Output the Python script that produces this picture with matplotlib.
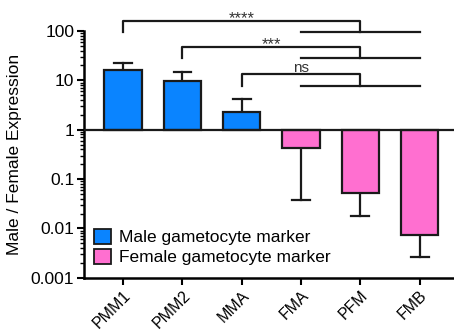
import matplotlib.pyplot as plt
from matplotlib.ticker import LogLocator, FixedLocator, FixedFormatter, NullFormatter

plt.rcParams['font.family'] = ['Liberation Sans', 'DejaVu Sans']

# data
genes = ["PMM1", "PMM2", "MMA", "FMA", "PFM", "FMB"]
ratio = [16, 9.5, 2.25, 0.43, 0.053, 0.0075]
err_end = [22.5, 15, 4.1, 0.037, 0.0176, 0.0026]
is_male = [True, True, True, False, False, False]
yticks = [0.001, 0.01, 0.1, 1, 10, 100]
ytick_labels = ["0.001", "0.01", "0.1", "1", "10", "100"]

# comparisons: (left group, label)
comparisons = [(0, "****"), (1, "***"), (2, "ns")]

blue = '#0A84FF'
pink = '#FF6FD0'
dark = '#1a1a1a'

fig = plt.figure(figsize=(4.54, 3.32), dpi=100)
ax = fig.add_axes([0.185, 0.163, 0.815, 0.744])
ax.set_yscale('log')
ax.set_ylim(0.001, 100)
ax.set_xlim(-0.66, 5.58)

x = list(range(len(genes)))
for i in x:
    c = blue if is_male[i] else pink
    ax.bar(i, ratio[i] - 1, bottom=1, width=0.63, color=c, edgecolor=dark,
           linewidth=1.6, zorder=3)
    ax.plot([i, i], [ratio[i], err_end[i]], color=dark, lw=1.6, zorder=2)
    ax.plot([i - 0.15, i + 0.15], [err_end[i], err_end[i]], color=dark, lw=1.6, zorder=2)

ax.axhline(1, color=dark, lw=1.6, zorder=4)

# significance brackets (each left bar vs. female markers)
levels = [(160, 95), (47, 28), (13.3, 7.5)]
for (left, lab), (ytop, ylow) in zip(comparisons, levels):
    kw = dict(color=dark, lw=1.6, clip_on=False)
    ax.plot([left, left, 4, 4], [ylow, ytop, ytop, ylow], **kw)
    ax.plot([3, 5], [ylow, ylow], **kw)
    if lab == 'ns':
        ax.text((left + 4) / 2, ytop * 1.12, lab, ha='center', va='baseline',
                fontsize=11, color='#333333')
    else:
        ax.text((left + 4) / 2, ytop * 1.12, lab, ha='center', va='center',
                fontsize=12, color='#333333')

for s in ['top', 'right']:
    ax.spines[s].set_visible(False)
ax.spines['left'].set_linewidth(1.8)
ax.spines['bottom'].set_linewidth(1.8)

ax.yaxis.set_major_locator(FixedLocator(yticks))
ax.yaxis.set_major_formatter(FixedFormatter(ytick_labels))
ax.yaxis.set_minor_locator(LogLocator(base=10, subs=range(2, 10)))
ax.yaxis.set_minor_formatter(NullFormatter())
ax.tick_params(axis='y', which='major', length=5, width=1.5, labelsize=12.5, pad=2)
ax.tick_params(axis='y', which='minor', length=3, width=1.0)
ax.set_xticks(x)
ax.set_xticklabels(genes, rotation=45, ha='right', rotation_mode='anchor', fontsize=11.5)
ax.tick_params(axis='x', length=5, width=1.5, pad=2)

ax.set_ylabel("Male / Female Expression", fontsize=12.5, labelpad=6)

h1 = plt.Rectangle((0, 0), 1, 1, facecolor=blue, edgecolor=dark, lw=1.3)
h2 = plt.Rectangle((0, 0), 1, 1, facecolor=pink, edgecolor=dark, lw=1.3)
ax.legend([h1, h2], ["Male gametocyte marker", "Female gametocyte marker"],
          loc='lower left', bbox_to_anchor=(0.0, 0.01), frameon=False, fontsize=12.5,
          handlelength=0.95, handleheight=0.95, handletextpad=0.45, labelspacing=0.2,
          borderaxespad=0.2)

fig.savefig('out.png', dpi=100)
